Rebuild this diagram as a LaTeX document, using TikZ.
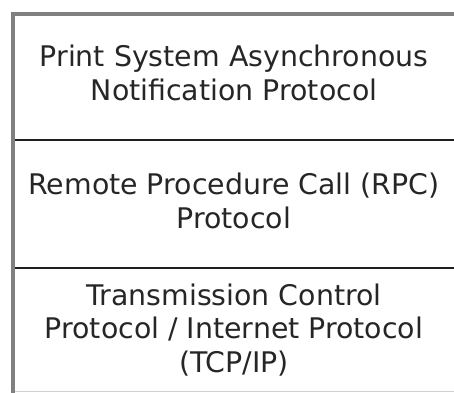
\documentclass[tikz,border=0pt]{standalone}
\usepackage{fontspec}
\setmainfont{DejaVu Sans}
\definecolor{framegray}{HTML}{808080}
\definecolor{divider}{HTML}{1E1E1E}
\definecolor{textgray}{HTML}{262626}
\definecolor{faint}{HTML}{D0D0D0}
\tikzset{
  frameline/.style={draw=framegray, line width=4pt, line join=miter},
  dividerline/.style={draw=divider, line width=2pt},
  faintline/.style={draw=faint, line width=1pt},
  layertext/.style={align=center, inner sep=0pt, anchor=base, text=textgray,
    font=\fontsize{28.4}{33.5}\selectfont},
}
\begin{document}
\begin{tikzpicture}[x=1pt,y=1pt]
  \useasboundingbox (0,0) rectangle (454,-392);
  % frame corners
  \coordinate (fbl) at (13,-394);
  \coordinate (ftl) at (13,-14);
  \coordinate (ftr) at (456,-14);
  \draw[frameline] (fbl) -- (ftl) -- (ftr);
  % dividers
  \coordinate (d1l) at (15,-140);
  \coordinate (d1r) at (456,-140);
  \coordinate (d2l) at (15,-268);
  \coordinate (d2r) at (456,-268);
  \coordinate (d3l) at (15,-391.5);
  \coordinate (d3r) at (456,-391.5);
  \draw[dividerline] (d1l) -- (d1r);
  \draw[dividerline] (d2l) -- (d2r);
  \draw[faintline] (d3l) -- (d3r);
  % layer labels (anchor base = baseline of the last line)
  \node[layertext] (pasn) at (234,-100) {Print System Asynchronous\\Notification Protocol};
  \node[layertext] (rpc) at (234,-228) {Remote Procedure Call (RPC)\\Protocol};
  \node[layertext] (tcp) at (234,-372) {Transmission Control\\Protocol / Internet Protocol\\(TCP/IP)};
\end{tikzpicture}
\end{document}
